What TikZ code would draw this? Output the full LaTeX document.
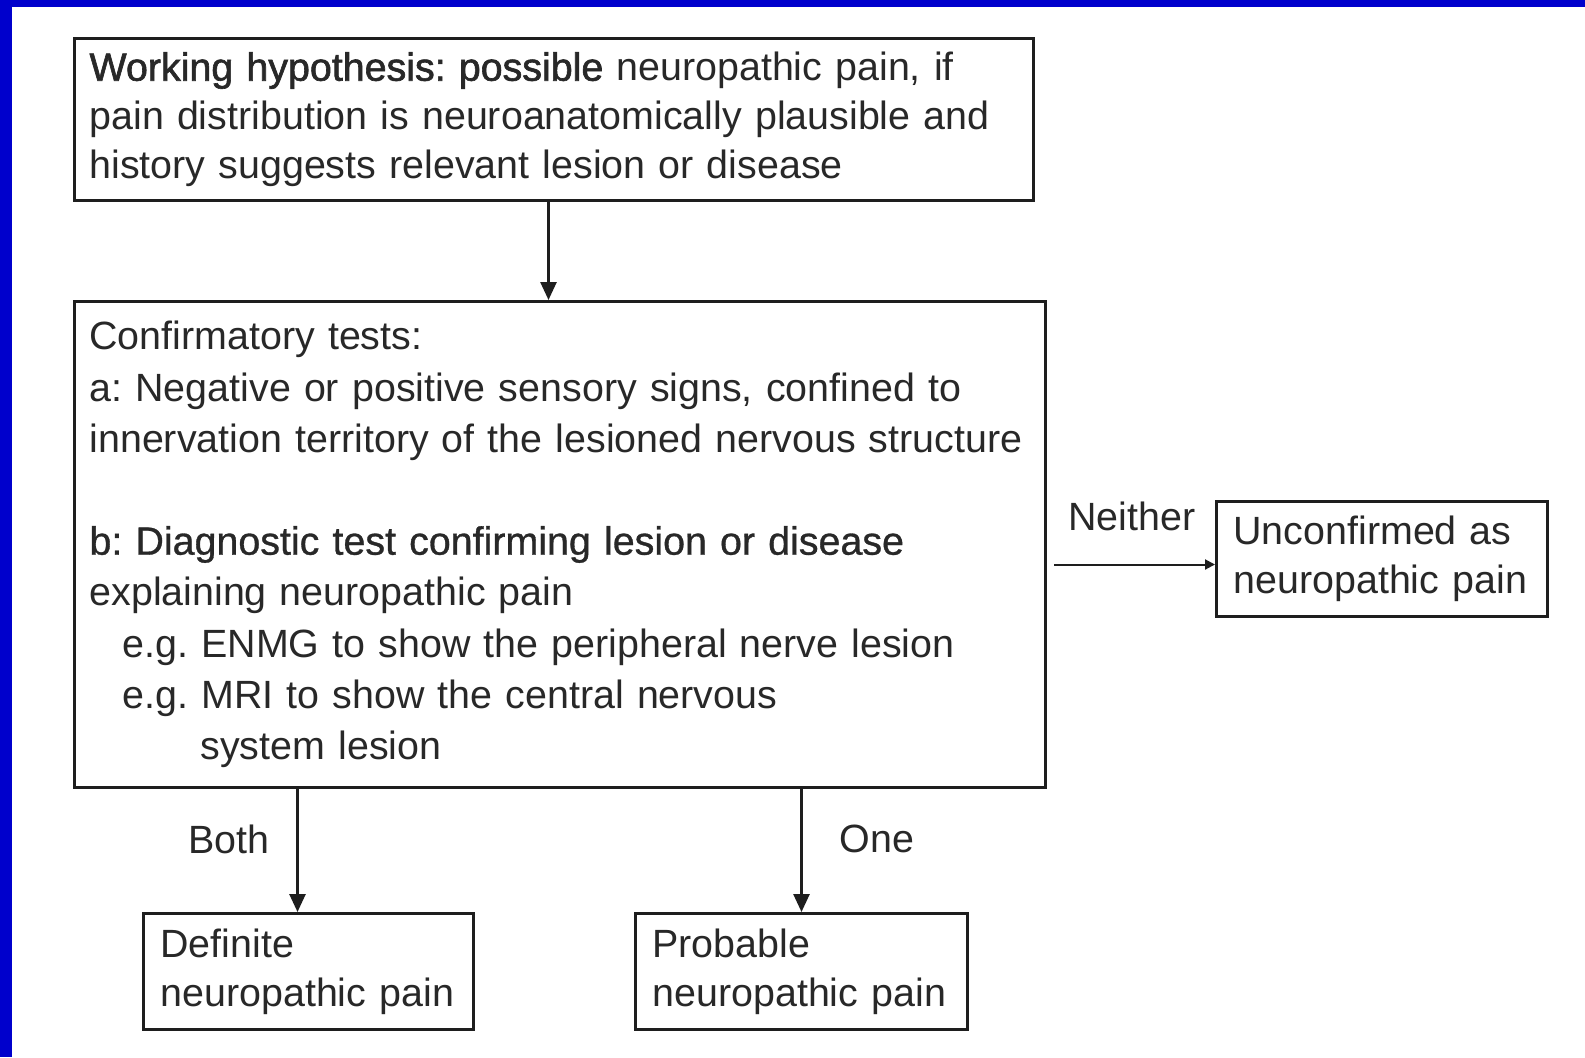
\documentclass[tikz,border=0pt]{standalone}
\usepackage{fontspec}
\setmainfont{Liberation Sans}
\newfontfamily\fakebold[FakeBold=1.6]{Liberation Sans}
\newfontfamily\semibold[FakeBold=0.8]{Liberation Sans}
\usetikzlibrary{arrows.meta,calc}
\definecolor{bluebar}{RGB}{0,0,204}
\definecolor{ink}{RGB}{40,40,40}
\definecolor{linec}{RGB}{30,30,30}
\frenchspacing
\begin{document}
\begin{tikzpicture}[x=0.5pt,y=-0.5pt,
  box/.style={draw=linec,line width=1.5pt,anchor=north west,align=left,text=ink,
    font=\fontsize{19.7}{24.5}\selectfont,inner ysep=0pt},
  lbl/.style={text=ink,font=\fontsize{19.7}{24.5}\selectfont,inner sep=0pt},
  arr/.style={draw=linec,line width=1.3pt,-{Triangle[length=9pt,width=8pt]}},
  sarr/.style={draw=linec,line width=1pt,-{Triangle[length=5pt,width=5pt]}}]
\useasboundingbox (0,0) rectangle (1585,1057);
\fill[white] (0,0) rectangle (1585,1057);
\fill[bluebar] (0,0) rectangle (12,1057);
\fill[bluebar] (0,0) rectangle (1585,7);

\node[box,inner xsep=7.5pt,minimum width=479.5pt,minimum height=81pt,text width=464.5pt] (box1) at (73,37)
 {{\fakebold Working hypothesis: possible} neuropathic pain, if\\
  pain distribution is neuroanatomically plausible and\\
  history suggests relevant lesion or disease};

\node[box,inner xsep=7.5pt,minimum width=485.5pt,minimum height=243pt,text width=470.5pt,
  font=\fontsize{19.7}{25.6}\selectfont] (box2) at (73,300)
 {Confirmatory tests:\\
  a: Negative or positive sensory signs, confined to\\
  innervation territory of the lesioned nervous structure\\[25.6pt]
  {\semibold b: Diagnostic test confirming lesion or disease}\\
  explaining neuropathic pain\\
  \hspace*{16.5pt}e.g. ENMG to show the peripheral nerve lesion\\
  \hspace*{16.5pt}e.g. MRI to show the central nervous\\
  \hspace*{55.5pt}system lesion};

\node[box,inner xsep=8.5pt,minimum width=165.5pt,minimum height=57.5pt,text width=148.5pt] (unc) at (1215,500)
 {Unconfirmed as\\neuropathic pain};

\node[box,inner xsep=8.5pt,minimum width=165pt,minimum height=58pt,text width=148pt] (def) at (142,912)
 {Definite\\neuropathic pain};

\node[box,inner xsep=8.5pt,minimum width=166pt,minimum height=58pt,text width=149pt] (prob) at (634,912)
 {Probable\\neuropathic pain};

% connectors
\coordinate (t1) at ([xshift=-2.75pt]box1.south);
\draw[arr] (t1) -- (t1 |- box2.north);

\coordinate (nx) at ([xshift=3.5pt,yshift=-2.75pt]box2.east |- unc.west);
\draw[sarr] (nx) -- ([yshift=-2.75pt]unc.west);
\node[lbl] (neither) at (1132,516) {Neither};

\coordinate (bx) at ([xshift=-5.5pt]def.north);
\draw[arr] (bx |- box2.south) -- (bx);
\node[lbl] (both) at (229,839) {Both};

\draw[arr] (prob.north |- box2.south) -- (prob.north);
\node[lbl] (one) at (877,839) {One};
\end{tikzpicture}
\end{document}
